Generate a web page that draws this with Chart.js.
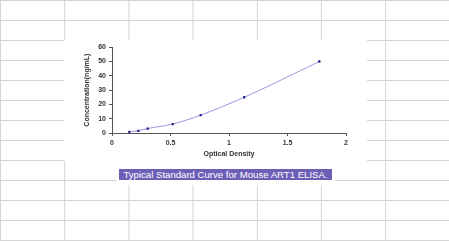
<!DOCTYPE html>
<html>
<head>
<meta charset="utf-8">
<script src="https://cdn.jsdelivr.net/npm/chart.js@4"></script>
<style>
  html, body {
    margin: 0;
    padding: 0;
  }
  body {
    width: 449px;
    height: 241px;
    position: relative;
    overflow: hidden;
    background-color: #fff;
    background-image:
      linear-gradient(to right, #d5d5d5 1px, transparent 1px),
      linear-gradient(to bottom, #d5d5d5 1px, transparent 1px);
    background-size: 64.2px 20px;
    font-family: "Liberation Sans", Arial, sans-serif;
  }
  #chart-box {
    position: absolute;
    left: 64px;
    top: 40px;
    width: 303px;
    height: 121px;
    background: #fff;
  }
  #caption-box {
    position: absolute;
    left: 117px;
    top: 161px;
    width: 218px;
    height: 24px;
    background: #fff;
  }
  #caption {
    position: absolute;
    left: 2px;
    top: 8px;
    width: 213px;
    height: 11px;
    background: #6c60b6;
    color: #fff;
    font-size: 9.6px;
    line-height: 11px;
    text-align: center;
    white-space: nowrap;
  }
</style>
</head>
<body>
<div id="chart-box">
  <canvas id="curve-chart" width="303" height="121"></canvas>
</div>
<div id="caption-box">
  <div id="caption">Typical Standard Curve for Mouse ART1 ELISA.</div>
</div>
<script>
  // standard points
  const opticalDensity = [0.148, 0.225, 0.305, 0.519, 0.758, 1.13, 1.772];
  const concentration = [0.78, 1.56, 3.12, 6.25, 12.5, 25, 50];
  const xTitle = "Optical Density";
  const yTitle = "Concentration(ng/mL)";

  const points = opticalDensity.map((od, i) => ({ x: od, y: concentration[i] }));

  const tickFont = { family: "Liberation Sans", size: 7, weight: "bold" };
  const textColor = "#333";

  const ctx = document.getElementById("curve-chart").getContext("2d");
  new Chart(ctx, {
    type: "scatter",
    data: {
      datasets: [
        {
          data: points,
          showLine: true,
          cubicInterpolationMode: "monotone",
          borderColor: "#9898de",
          borderWidth: 1,
          pointStyle: "rect",
          pointRadius: 1.6,
          pointBackgroundColor: "#24248f",
          pointBorderColor: "#24248f",
          pointBorderWidth: 0,
        },
      ],
    },
    options: {
      responsive: false,
      animation: false,
      layout: {
        padding: { top: 6, right: 21, left: 0, bottom: 0 },
      },
      plugins: {
        legend: { display: false },
        tooltip: { enabled: false },
      },
      scales: {
        x: {
          type: "linear",
          min: 0,
          max: 2,
          ticks: {
            stepSize: 0.5,
            font: tickFont,
            color: textColor,
            padding: 3,
            maxRotation: 0,
            callback: (v) => `${v}`,
          },
          grid: {
            drawOnChartArea: false,
            tickLength: 3,
            color: "#555",
          },
          border: { display: true, color: "#555", width: 1 },
          title: {
            display: true,
            text: xTitle,
            font: tickFont,
            color: textColor,
            padding: { top: 0, bottom: 3 },
          },
          afterFit: (scale) => {
            scale.height = 28;
          },
        },
        y: {
          type: "linear",
          min: 0,
          max: 60,
          ticks: {
            stepSize: 10,
            font: tickFont,
            color: textColor,
            padding: 3,
          },
          grid: {
            drawOnChartArea: false,
            tickLength: 3,
            color: "#555",
          },
          border: { display: true, color: "#555", width: 1 },
          title: {
            display: true,
            text: yTitle,
            font: tickFont,
            color: textColor,
            padding: { top: 19, bottom: 0 },
          },
          afterFit: (scale) => {
            scale.width = 48;
          },
        },
      },
    },
  });
</script>
</body>
</html>
